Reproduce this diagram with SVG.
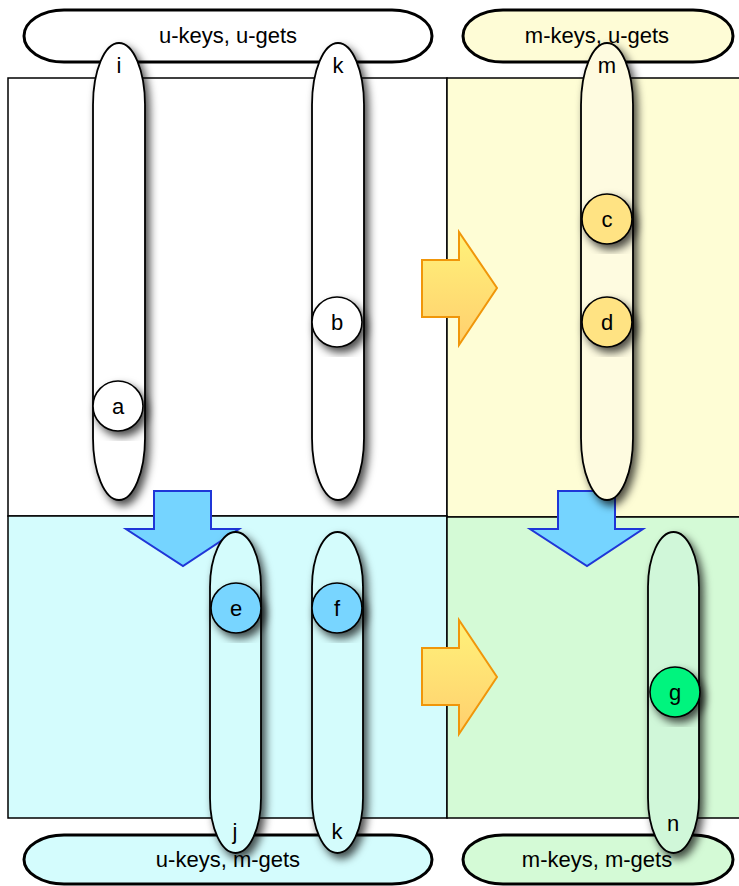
<svg xmlns="http://www.w3.org/2000/svg" width="739" height="886" viewBox="0 0 739 886">
  <defs>
    <filter id="shadow" x="-50%" y="-20%" width="220%" height="140%">
      <feDropShadow dx="4" dy="5" stdDeviation="4.5" flood-color="#000" flood-opacity="0.7"/>
    </filter>
    <linearGradient id="orangeGrad" x1="0" y1="0" x2="0" y2="1">
      <stop offset="0" stop-color="#FFF27A"/>
      <stop offset="1" stop-color="#FFCF6E"/>
    </linearGradient>
    <style>
      .quad { stroke: #000; stroke-width: 1.5; }
      .header { stroke: #000; stroke-width: 3; }
      .pill { stroke: #000; stroke-width: 1.8; filter: url(#shadow); }
      .dot { stroke: #000; stroke-width: 1.6; filter: url(#shadow); }
      .lbl { font-family: "Liberation Sans", Arial, sans-serif; font-size: 22px; fill: #000; text-anchor: middle; }
      .orange { fill: url(#orangeGrad); stroke: #F0960A; stroke-width: 2; stroke-linejoin: miter; }
      .blue { fill: #75D4FF; stroke: #1F36D8; stroke-width: 2; stroke-linejoin: miter; }
    </style>
  </defs>

  <!-- quadrant backgrounds -->
  <g id="quadrants">
    <rect class="quad" x="8" y="78" width="439" height="438" fill="#FFFFFF"/>
    <rect class="quad" x="447" y="78" width="300" height="439" fill="#FEFDD5"/>
    <rect class="quad" x="8" y="516" width="439" height="302" fill="#D4FCFD"/>
    <rect class="quad" x="447" y="517" width="300" height="301" fill="#D4FAD6"/>
  </g>

  <!-- group headers -->
  <g id="hdr-uu">
    <rect class="header" x="24" y="10" width="408" height="52" rx="40" ry="26" fill="#FFFFFF"/>
    <text class="lbl" x="228" y="43">u-keys, u-gets</text>
  </g>
  <g id="hdr-mu">
    <rect class="header" x="463" y="10" width="270" height="52" rx="40" ry="26" fill="#FEFCD6"/>
    <text class="lbl" x="597" y="43">m-keys, u-gets</text>
  </g>
  <g id="hdr-um">
    <rect class="header" x="24" y="835" width="408" height="49" rx="40" ry="24.5" fill="#D4FCFD"/>
    <text class="lbl" x="228" y="867">u-keys, m-gets</text>
  </g>
  <g id="hdr-mm">
    <rect class="header" x="463" y="835" width="270" height="49" rx="40" ry="24.5" fill="#D4FAD6"/>
    <text class="lbl" x="597" y="867">m-keys, m-gets</text>
  </g>

  <!-- block arrows between quadrants -->
  <g id="connectors">
    <path class="orange" d="M422,260 H459 V232 L497,288 L459,345 V317 H422 Z"/>
    <path class="orange" d="M422,648 H459 V620 L497,677 L459,734 V705 H422 Z"/>
    <path class="blue" d="M154,491 H211 V529 H239 L183,566 L126,529 H154 Z"/>
    <path class="blue" d="M558,491 H615 V529 H643 L587,566 L530,529 H558 Z"/>
  </g>

  <!-- key columns -->
  <g id="col-i">
    <rect class="pill" x="93" y="43" width="52" height="457" rx="26" ry="62" fill="#FFFFFF"/>
    <text class="lbl" x="119" y="73">i</text>
  </g>
  <g id="col-k-top">
    <rect class="pill" x="312" y="43" width="52" height="457" rx="26" ry="62" fill="#FFFFFF"/>
    <text class="lbl" x="338" y="73">k</text>
  </g>
  <g id="col-m">
    <rect class="pill" x="581" y="43" width="52" height="457" rx="26" ry="62" fill="#FEFBE0"/>
    <text class="lbl" x="607" y="73">m</text>
  </g>
  <g id="col-j">
    <rect class="pill" x="210" y="532" width="51" height="321" rx="25.5" ry="55" fill="#D4FCFC"/>
    <text class="lbl" x="235" y="839">j</text>
  </g>
  <g id="col-k-bottom">
    <rect class="pill" x="312" y="532" width="51" height="321" rx="25.5" ry="55" fill="#D4FCFC"/>
    <text class="lbl" x="337" y="839">k</text>
  </g>
  <g id="col-n">
    <rect class="pill" x="648" y="532" width="51" height="321" rx="25.5" ry="55" fill="#D0F7D9"/>
    <text class="lbl" x="673" y="831">n</text>
  </g>

  <!-- value nodes -->
  <g id="node-a">
    <circle class="dot" cx="118" cy="406" r="25" fill="#FFFFFF"/>
    <text class="lbl" x="118" y="414">a</text>
  </g>
  <g id="node-b">
    <circle class="dot" cx="337" cy="322" r="25" fill="#FFFFFF"/>
    <text class="lbl" x="337" y="330">b</text>
  </g>
  <g id="node-c">
    <circle class="dot" cx="607" cy="219" r="25" fill="#FFE383"/>
    <text class="lbl" x="607" y="227">c</text>
  </g>
  <g id="node-d">
    <circle class="dot" cx="607" cy="322" r="25" fill="#FFE383"/>
    <text class="lbl" x="607" y="330">d</text>
  </g>
  <g id="node-e">
    <circle class="dot" cx="236" cy="608" r="25" fill="#78D5FF"/>
    <text class="lbl" x="236" y="616">e</text>
  </g>
  <g id="node-f">
    <circle class="dot" cx="337" cy="608" r="25" fill="#78D5FF"/>
    <text class="lbl" x="337" y="616">f</text>
  </g>
  <g id="node-g">
    <circle class="dot" cx="675" cy="692" r="25" fill="#00F47E"/>
    <text class="lbl" x="675" y="700">g</text>
  </g>
</svg>
